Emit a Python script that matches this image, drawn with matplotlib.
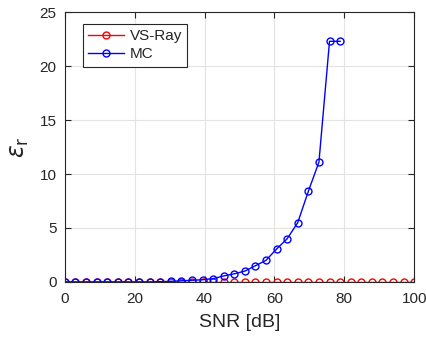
import numpy as np
import matplotlib.pyplot as plt

plt.rcParams['font.family'] = ['Liberation Sans', 'DejaVu Sans']

# SNR grid and errors
snr = np.linspace(0, 100, 34)
vs_ray = [0.0] * 34
mc = [0.0, 0.0, 0.0, 0.0, 0.0, 0.0, 0.0, 0.0, 0.0, 0.02,
      0.05, 0.1, 0.15, 0.2, 0.3, 0.55, 0.75, 1.0, 1.5, 2.0,
      3.05, 4.0, 5.5, 8.4, 11.1, 22.3, 22.3]

fig = plt.figure(figsize=(4.27, 3.38), dpi=100)
ax = fig.add_axes([0.152, 0.166, 0.818, 0.798])

ax.plot(snr, vs_ray, '-o', color='red', lw=1, ms=5, mfc='none', mew=1, label='VS-Ray')
ax.plot(snr[:len(mc)], mc, '-o', color='blue', lw=1, ms=5, mfc='none', mew=1, label='MC')

ax.set_xlim(0, 100)
ax.set_ylim(0, 25)
ax.set_xticks([0, 20, 40, 60, 80, 100])
ax.set_yticks([0, 5, 10, 15, 20, 25])
ax.grid(True, color='#e3e3e3', lw=0.8)
ax.set_axisbelow(True)
ax.tick_params(direction='in', top=True, right=True, labelsize=11, length=4,
               color='#262626', labelcolor='#262626')
ax.tick_params(axis='x', pad=7)
ax.tick_params(axis='y', pad=6)
for s in ax.spines.values():
    s.set_color('#262626')
    s.set_linewidth(0.8)

ax.set_xlabel('SNR [dB]', fontsize=14, color='#262626', labelpad=6)
ax.set_ylabel(r'$\epsilon_{\mathrm{r}}$', fontsize=17, color='#262626', labelpad=6)

leg = ax.legend(loc='upper left', bbox_to_anchor=(0.052, 0.956), borderaxespad=0,
                fontsize=11, fancybox=False, edgecolor='#262626', framealpha=1,
                handlelength=2.3, borderpad=0.35, labelspacing=0.25, handletextpad=0.4)
leg.get_frame().set_linewidth(0.8)
for t in leg.get_texts():
    t.set_color('#262626')

fig.savefig('out.png', dpi=100)
